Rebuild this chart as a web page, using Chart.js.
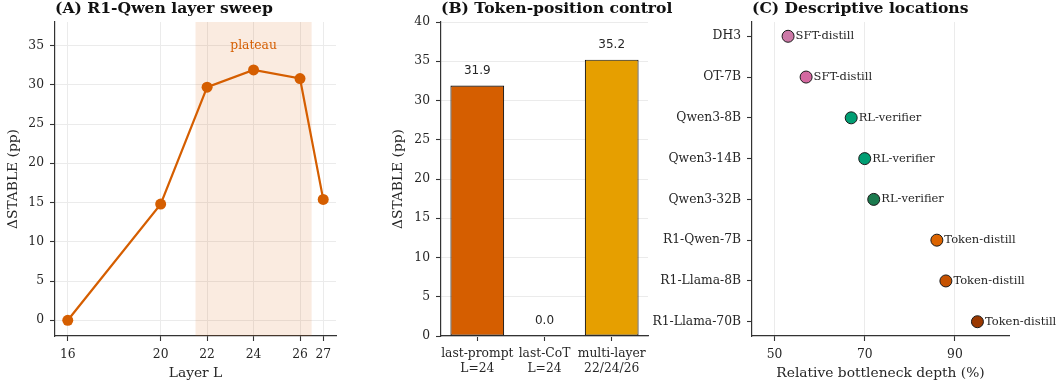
<!DOCTYPE html>
<html><head><meta charset="utf-8">
<script src="https://cdn.jsdelivr.net/npm/chart.js@4.4.1/dist/chart.umd.min.js"></script>
<style>
body{margin:0;background:#fff;width:1058px;height:387px;overflow:hidden;position:relative}
.p{position:absolute;top:0}
canvas{display:block}
</style></head><body>
<div class="p" style="left:0;width:350px;height:387px"><canvas id="a" width="350" height="387" style="width:350px;height:387px"></canvas></div>
<div class="p" style="left:350px;width:330px;height:387px"><canvas id="b" width="330" height="387" style="width:330px;height:387px"></canvas></div>
<div class="p" style="left:620px;width:438px;height:387px"><canvas id="c" width="438" height="387" style="width:438px;height:387px"></canvas></div>
<script>
// ---- data ----
const layers = [16, 20, 22, 24, 26, 27];
const layerStable = [0, 14.8, 29.7, 31.9, 30.8, 15.4];
const plateauRange = [21.5, 26.5];
const yTicksA = [0, 5, 10, 15, 20, 25, 30, 35];

const controlLabels = [['last-prompt', 'L=24'], ['last-CoT', 'L=24'], ['multi-layer', '22/24/26']];
const controlValues = [31.9, 0.0, 35.2];
const controlColors = ['#d55e00', '#d55e00', '#e69f00'];

const models = ['DH3', 'OT-7B', 'Qwen3-8B', 'Qwen3-14B', 'Qwen3-32B', 'R1-Qwen-7B', 'R1-Llama-8B', 'R1-Llama-70B'];
const depths = [53, 57, 67, 70, 72, 86, 88, 95];
const regimes = ['SFT-distill', 'SFT-distill', 'RL-verifier', 'RL-verifier', 'RL-verifier', 'Token-distill', 'Token-distill', 'Token-distill'];
const modelColors = ['#cc79a7', '#d468a0', '#009e73', '#009e73', '#1b7a4e', '#dc6400', '#c65200', '#9a3800'];
const depthTicks = [50, 70, 90];

// ---- style ----
const FONT = 'DejaVu Serif';
const TXT = '#262626';
const AX = '#333333';
const GRID = '#ebebeb';
const ORANGE = '#d55e00';
const TICK = 12.3;
const LAB = 13.8;
const TITLE = 15.6;

function zeroPad(s){ s.paddingLeft = 0; s.paddingRight = 0; s.paddingTop = 0; s.paddingBottom = 0; }
function axis(extra, drawGrid){
  return Object.assign({
    border: {color: AX, width: 1.2},
    grid: {color: GRID, lineWidth: 1, tickColor: AX, tickLength: 5, tickWidth: 1.1, drawOnChartArea: drawGrid, offset: false},
    ticks: {color: TXT, font: {family: FONT, size: TICK}, padding: 6, autoSkip: false, maxRotation: 0, minRotation: 0}
  }, extra);
}
function txt(ctx, t, x, y, o){
  ctx.save();
  ctx.font = (o.weight || 'normal') + ' ' + (o.size || LAB) + 'px "' + FONT + '"';
  ctx.fillStyle = o.color || TXT;
  ctx.textAlign = o.align || 'center';
  ctx.textBaseline = o.baseline || 'middle';
  ctx.translate(x, y);
  if (o.rot) ctx.rotate(o.rot);
  ctx.fillText(t, 0, 0);
  ctx.restore();
}
const base = {responsive: false, animation: false, devicePixelRatio: 1,
  plugins: {legend: {display: false}, tooltip: {enabled: false}}};

// ---- Panel A ----
new Chart(document.getElementById('a'), {
  type: 'line',
  data: {datasets: [{
    data: layers.map((x, i) => ({x: x, y: layerStable[i]})),
    borderColor: ORANGE, backgroundColor: ORANGE, borderWidth: 2.2,
    pointRadius: 5.5, pointBorderWidth: 0, pointBackgroundColor: ORANGE, tension: 0, clip: false
  }]},
  options: Object.assign({}, base, {
    layout: {padding: {left: 0, top: 22, right: 14, bottom: 0}},
    scales: {
      x: axis({type: 'linear', min: 15.45, max: 27.55,
        afterBuildTicks: s => { s.ticks = layers.map(v => ({value: v})); },
        afterFit: s => { s.height = 51; zeroPad(s); }}, true),
      y: axis({min: -2, max: 38,
        afterBuildTicks: s => { s.ticks = yTicksA.map(v => ({value: v})); },
        afterFit: s => { s.width = 55; zeroPad(s); }}, true)
    }
  }),
  plugins: [{
    id: 'spanA',
    beforeDatasetsDraw(chart){
      const {ctx, chartArea: ca, scales: {x}} = chart;
      ctx.save();
      ctx.fillStyle = 'rgba(213,94,0,0.12)';
      const x0 = x.getPixelForValue(plateauRange[0]), x1 = x.getPixelForValue(plateauRange[1]);
      ctx.fillRect(x0, ca.top, x1 - x0, ca.bottom - ca.top);
      ctx.restore();
    },
    afterDraw(chart){
      const {ctx, chartArea: ca, scales: {x, y}} = chart;
      txt(ctx, 'plateau', x.getPixelForValue(24), y.getPixelForValue(35), {size: 12.3, color: ORANGE});
      txt(ctx, '(A) R1-Qwen layer sweep', ca.left, 12.5, {size: TITLE, weight: 'bold', align: 'left', baseline: 'alphabetic', color: '#111'});
      txt(ctx, 'Layer L', (ca.left + ca.right) / 2, 373, {});
      txt(ctx, '\u0394STABLE (pp)', 13.3, (ca.top + ca.bottom) / 2, {rot: -Math.PI / 2});
    }
  }]
});

// ---- Panel B ----
new Chart(document.getElementById('b'), {
  type: 'bar',
  data: {datasets: [{
    data: controlValues.map((v, i) => ({x: i, y: v})),
    backgroundColor: controlColors, borderColor: '#111', borderWidth: 1.1,
    barPercentage: 0.8, categoryPercentage: 1, borderSkipped: false
  }]},
  options: Object.assign({}, base, {
    layout: {padding: {left: 0, top: 22, right: 32, bottom: 0}},
    scales: {
      x: axis({type: 'linear', min: -0.54, max: 2.54, offset: false,
        afterBuildTicks: s => { s.ticks = controlLabels.map((v, i) => ({value: i})); },
        ticks: {color: TXT, font: {family: FONT, size: TICK, lineHeight: 1.17}, padding: 6, autoSkip: false, maxRotation: 0,
          callback: v => controlLabels[v]},
        afterFit: s => { s.height = 51; zeroPad(s); }}, false),
      y: axis({min: 0, max: 40,
        ticks: {color: TXT, font: {family: FONT, size: TICK}, padding: 6, stepSize: 5},
        afterFit: s => { s.width = 91; zeroPad(s); }}, true)
    }
  }),
  plugins: [{
    id: 'labB',
    afterDraw(chart){
      const {ctx, chartArea: ca, scales: {x, y}} = chart;
      controlValues.forEach((v, i) => {
        ctx.save();
        ctx.font = '12px "DejaVu Sans"';
        ctx.fillStyle = TXT; ctx.textAlign = 'center'; ctx.textBaseline = 'alphabetic';
        ctx.fillText(v.toFixed(1), x.getPixelForValue(i), y.getPixelForValue(v) - 11.8);
        ctx.restore();
      });
      txt(ctx, '(B) Token-position control', ca.left, 12.5, {size: TITLE, weight: 'bold', align: 'left', baseline: 'alphabetic', color: '#111'});
      txt(ctx, '\u0394STABLE (pp)', 48, (ca.top + ca.bottom) / 2, {rot: -Math.PI / 2});
    }
  }]
});

// ---- Panel C ----
new Chart(document.getElementById('c'), {
  type: 'scatter',
  data: {datasets: [{
    data: depths.map((d, i) => ({x: d, y: i})),
    pointBackgroundColor: modelColors, pointBorderColor: '#1a1a1a', pointBorderWidth: 1,
    pointRadius: 6, clip: false
  }]},
  options: Object.assign({}, base, {
    layout: {padding: {left: 0, top: 22, right: 49, bottom: 0}},
    scales: {
      x: axis({type: 'linear', min: 45, max: 102,
        afterBuildTicks: s => { s.ticks = depthTicks.map(v => ({value: v})); },
        afterFit: s => { s.height = 51; zeroPad(s); }}, true),
      y: axis({type: 'linear', min: -0.35, max: 7.35, reverse: true,
        afterBuildTicks: s => { s.ticks = models.map((m, i) => ({value: i})); },
        ticks: {color: TXT, font: {family: FONT, size: TICK}, padding: 6, autoSkip: false, callback: v => models[v]},
        afterFit: s => { s.width = 132; zeroPad(s); }}, false)
    }
  }),
  plugins: [{
    id: 'labC',
    afterDraw(chart){
      const {ctx, chartArea: ca, scales: {x, y}} = chart;
      depths.forEach((d, i) => {
        txt(ctx, regimes[i], x.getPixelForValue(d) + 7.5, y.getPixelForValue(i), {size: 11.5, align: 'left'});
      });
      txt(ctx, '(C) Descriptive locations', ca.left, 12.5, {size: TITLE, weight: 'bold', align: 'left', baseline: 'alphabetic', color: '#111'});
      txt(ctx, 'Relative bottleneck depth (%)', (ca.left + ca.right) / 2, 373, {});
    }
  }]
});
</script>
</body></html>
